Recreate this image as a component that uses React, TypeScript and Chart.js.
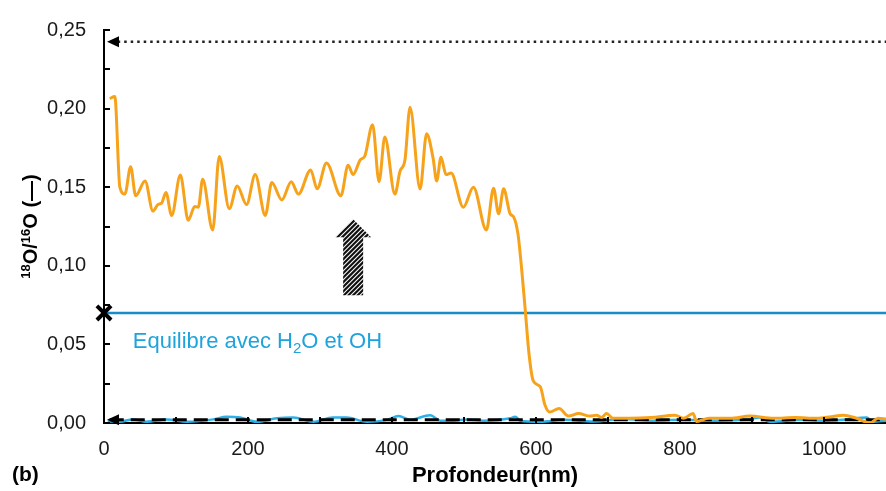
import { useEffect, useRef } from 'react';
import { Chart, registerables } from 'chart.js';

Chart.register(...registerables);

const FONT = '"Liberation Sans", Arial, Helvetica, sans-serif';

// Orange profile: 18O/16O ratio against depth (nm)
const depthNm = [
  8, 15, 22, 29, 37, 44, 57, 68, 75, 80, 86, 94, 106, 117, 126, 131, 137, 151, 160, 174,
  185, 198, 210, 224, 233, 247, 260, 270, 287, 296, 309, 329, 339, 346, 356, 362, 373, 382, 390, 404,
  411, 418, 425, 439, 448, 457, 462, 468, 475, 482, 499, 513, 531, 541, 548, 555, 564, 569, 575, 580,
  585, 590, 596, 606, 612, 619, 632, 645, 659, 675, 684, 691, 698, 707, 730, 760, 793, 805, 818, 823,
  840, 870, 897, 930, 960, 990, 1010, 1027, 1045, 1064, 1075, 1086,
];
const ratio18O = [
  0.2064, 0.2077, 0.150, 0.1456, 0.163, 0.1446, 0.154, 0.1348, 0.139, 0.1398, 0.1467, 0.132, 0.1577, 0.129, 0.1377, 0.1373, 0.155, 0.1227, 0.1696, 0.1363,
  0.1508, 0.139, 0.158, 0.132, 0.153, 0.1419, 0.1535, 0.1456, 0.161, 0.149, 0.1654, 0.1446, 0.164, 0.158, 0.1675, 0.1696, 0.1898, 0.1535, 0.182, 0.1456,
  0.160, 0.1675, 0.2008, 0.1488, 0.184, 0.1685, 0.154, 0.169, 0.158, 0.159, 0.1373, 0.150, 0.1227, 0.1494, 0.1331, 0.149, 0.1331, 0.131, 0.120, 0.098,
  0.072, 0.045, 0.027, 0.023, 0.012, 0.007, 0.0092, 0.0044, 0.006, 0.0044, 0.005, 0.0035, 0.006, 0.003, 0.003, 0.0035, 0.005, 0.003, 0.006, 0.001,
  0.003, 0.003, 0.0044, 0.003, 0.0035, 0.003, 0.004, 0.005, 0.003, 0.000, 0.003, 0.0025,
];

// Light blue profile close to the natural level
const refDepthNm = [
  5, 22, 40, 59, 87, 115, 152, 170, 189, 212, 240, 263, 291, 318, 337, 365, 393, 409, 425, 453,
  467, 485, 504, 527, 564, 571, 578, 606, 640, 680, 720, 760, 800, 850, 890, 911, 925, 970, 1000, 1031,
  1059, 1068, 1086,
];
const refRatio = [
  0.001, 0.0008, 0.0023, 0.0008, 0.0023, 0.0008, 0.0023, 0.004, 0.0035, 0.0008, 0.003, 0.0035, 0.0008, 0.0035, 0.0035, 0.0008, 0.002, 0.0044, 0.002, 0.005,
  0.0015, 0.0015, 0.0023, 0.0015, 0.003, 0.004, 0.0015, 0.0008, 0.002, 0.001, 0.0025, 0.0015, 0.002, 0.0015, 0.002, 0.0035, 0.0008, 0.002, 0.0015, 0.0023,
  0.0035, 0.0008, 0.0015,
];

const equilibriumRatio = 0.07;
const naturalRatio = 0.002;
const tracerRatio = 0.2425;

const xTicks = [0, 200, 400, 600, 800, 1000];
const yTicks = [0, 0.05, 0.1, 0.15, 0.2, 0.25];
const xMax = 1086;
const yMax = 0.25;

// Hatched arrow (depth, ratio at tip, ratio at base)
const arrowDepth = 346;
const arrowTip = 0.1296;
const arrowBase = 0.0813;

// Annotation anchor (depth, ratio at baseline)
const noteDepth = 40;
const noteRatio = 0.0475;

const fmt = (v: number) => v.toFixed(2).replace('.', ',');

const overlay = {
  id: 'overlay',
  afterDatasetsDraw(chart: any) {
    const { ctx, chartArea, scales } = chart;
    const x = scales.x;
    const y = scales.y;
    const { left, bottom, right } = chartArea;
    ctx.save();

    // inward tick marks
    ctx.strokeStyle = '#000';
    ctx.lineWidth = 2;
    ctx.beginPath();
    for (let v = 0; v <= yMax + 1e-9; v += 0.025) {
      const py = Math.round(y.getPixelForValue(v));
      ctx.moveTo(left, py);
      ctx.lineTo(left + 6, py);
    }
    for (let v = 100; v < xMax; v += 100) {
      const px = Math.round(x.getPixelForValue(v));
      ctx.moveTo(px, bottom);
      ctx.lineTo(px, bottom - 6);
    }
    ctx.stroke();

    // left-pointing arrow heads
    ctx.fillStyle = '#000';
    [tracerRatio, naturalRatio].forEach((r) => {
      const py = y.getPixelForValue(r);
      ctx.beginPath();
      ctx.moveTo(left + 3, py);
      ctx.lineTo(left + 15, py - 5.5);
      ctx.lineTo(left + 15, py + 5.5);
      ctx.closePath();
      ctx.fill();
    });

    // hatched up arrow
    const cx = x.getPixelForValue(arrowDepth);
    const ty = y.getPixelForValue(arrowTip);
    const by = y.getPixelForValue(arrowBase);
    const hw = 18;
    const hh = 18;
    const sw = 10;
    ctx.save();
    ctx.beginPath();
    ctx.moveTo(cx, ty);
    ctx.lineTo(cx + hw, ty + hh);
    ctx.lineTo(cx + sw, ty + hh);
    ctx.lineTo(cx + sw, by);
    ctx.lineTo(cx - sw, by);
    ctx.lineTo(cx - sw, ty + hh);
    ctx.lineTo(cx - hw, ty + hh);
    ctx.closePath();
    ctx.clip();
    ctx.lineWidth = 2.2;
    ctx.strokeStyle = '#111';
    ctx.beginPath();
    const h = by - ty;
    for (let sx = cx - hw - h; sx < cx + hw + 2; sx += 4.6) {
      ctx.moveTo(sx, by + 2);
      ctx.lineTo(sx + h + 4, ty - 2);
    }
    ctx.stroke();
    ctx.restore();

    // annotation of the equilibrium level
    const nx = x.getPixelForValue(noteDepth);
    const ny = y.getPixelForValue(noteRatio);
    ctx.fillStyle = '#1FA3DC';
    ctx.textBaseline = 'alphabetic';
    ctx.textAlign = 'left';
    ctx.font = `22px ${FONT}`;
    let cur = nx;
    const a = 'Equilibre avec H';
    ctx.fillText(a, cur, ny);
    cur += ctx.measureText(a).width;
    ctx.font = `15px ${FONT}`;
    ctx.fillText('2', cur, ny + 5);
    cur += ctx.measureText('2').width;
    ctx.font = `22px ${FONT}`;
    ctx.fillText('O et OH', cur, ny);

    // y axis title with superscripts
    const parts = [
      { t: '18', s: true },
      { t: 'O', s: false },
      { t: '/', s: false },
      { t: '16', s: true },
      { t: 'O', s: false },
      { t: ' (—)', s: false },
    ];
    const bigFont = `bold 20px ${FONT}`;
    const smallFont = `bold 13px ${FONT}`;
    let total = 0;
    parts.forEach((p) => {
      ctx.font = p.s ? smallFont : bigFont;
      total += ctx.measureText(p.t).width;
    });
    ctx.save();
    ctx.translate(30, (chartArea.top + bottom) / 2);
    ctx.rotate(-Math.PI / 2);
    ctx.fillStyle = '#000';
    let u = -total / 2;
    parts.forEach((p) => {
      ctx.font = p.s ? smallFont : bigFont;
      ctx.fillText(p.t, u, p.s ? 0 : 7);
      u += ctx.measureText(p.t).width;
    });
    ctx.restore();

    // x axis title and panel letter
    ctx.fillStyle = '#000';
    ctx.font = `bold 22px ${FONT}`;
    ctx.textAlign = 'center';
    ctx.textBaseline = 'middle';
    ctx.fillText('Profondeur(nm)', (left + right) / 2, 476);
    ctx.textAlign = 'left';
    ctx.font = `bold 21px ${FONT}`;
    ctx.fillText('(b)', 12, 475);

    ctx.restore();
  },
};

export default function App() {
  const ref = useRef<HTMLCanvasElement | null>(null);

  useEffect(() => {
    if (!ref.current) return;
    const pts = (xs: number[], ys: number[]) => xs.map((v, i) => ({ x: v, y: ys[i] }));
    const chart = new Chart(ref.current, {
      type: 'line',
      data: {
        datasets: [
          {
            data: pts(depthNm, ratio18O),
            borderColor: '#F7A21B',
            borderWidth: 3,
            pointRadius: 0,
            cubicInterpolationMode: 'monotone',
          },
          {
            data: [{ x: 0, y: equilibriumRatio }],
            showLine: false,
            pointStyle: 'crossRot',
            pointRadius: 10,
            borderColor: '#000',
            pointBorderWidth: 4,
            clip: false,
          } as any,
          {
            data: [
              { x: 8, y: naturalRatio },
              { x: xMax, y: naturalRatio },
            ],
            borderColor: '#000',
            borderWidth: 3,
            borderDash: [14, 7],
            pointRadius: 0,
          },
          {
            data: pts(refDepthNm, refRatio),
            borderColor: '#2BB0E8',
            borderWidth: 2.5,
            pointRadius: 0,
            cubicInterpolationMode: 'monotone',
          },
          {
            data: [
              { x: 0, y: equilibriumRatio },
              { x: xMax, y: equilibriumRatio },
            ],
            borderColor: '#1A8BC8',
            borderWidth: 2.5,
            pointRadius: 0,
          },
          {
            data: [
              { x: 10, y: tracerRatio },
              { x: xMax, y: tracerRatio },
            ],
            borderColor: '#222',
            borderWidth: 2.5,
            borderDash: [2.5, 4],
            pointRadius: 0,
          },
        ],
      },
      options: {
        animation: false,
        responsive: false,
        events: [],
        layout: { autoPadding: false, padding: { top: 23, right: 0, left: 0, bottom: 0 } },
        plugins: { legend: { display: false }, tooltip: { enabled: false } },
        scales: {
          x: {
            type: 'linear',
            min: 0,
            max: xMax,
            afterBuildTicks: (s: any) => {
              s.ticks = xTicks.map((v) => ({ value: v }));
            },
            afterFit: (s: any) => {
              s.height = 68;
            },
            grid: { display: true, drawOnChartArea: false, drawTicks: false },
            border: { display: true, color: '#000', width: 2 },
            ticks: {
              padding: 14,
              maxRotation: 0,
              autoSkip: false,
              color: '#1a1a1a',
              font: { family: FONT, size: 20 },
              callback: (v: any) => String(v),
            },
          },
          y: {
            type: 'linear',
            min: 0,
            max: yMax,
            afterBuildTicks: (s: any) => {
              s.ticks = yTicks.map((v) => ({ value: v }));
            },
            afterFit: (s: any) => {
              s.width = 104;
            },
            grid: { display: true, drawOnChartArea: false, drawTicks: false },
            border: { display: true, color: '#000', width: 2 },
            ticks: {
              padding: 18,
              autoSkip: false,
              color: '#1a1a1a',
              font: { family: FONT, size: 20 },
              callback: (v: any) => fmt(Number(v)),
            },
          },
        },
      },
      plugins: [overlay],
    });
    return () => chart.destroy();
  }, []);

  return (
    <div style={{ position: 'fixed', left: 0, top: 0, width: 886, height: 491, background: '#fff' }}>
      <canvas ref={ref} width={886} height={491} style={{ display: 'block' }} />
    </div>
  );
}
